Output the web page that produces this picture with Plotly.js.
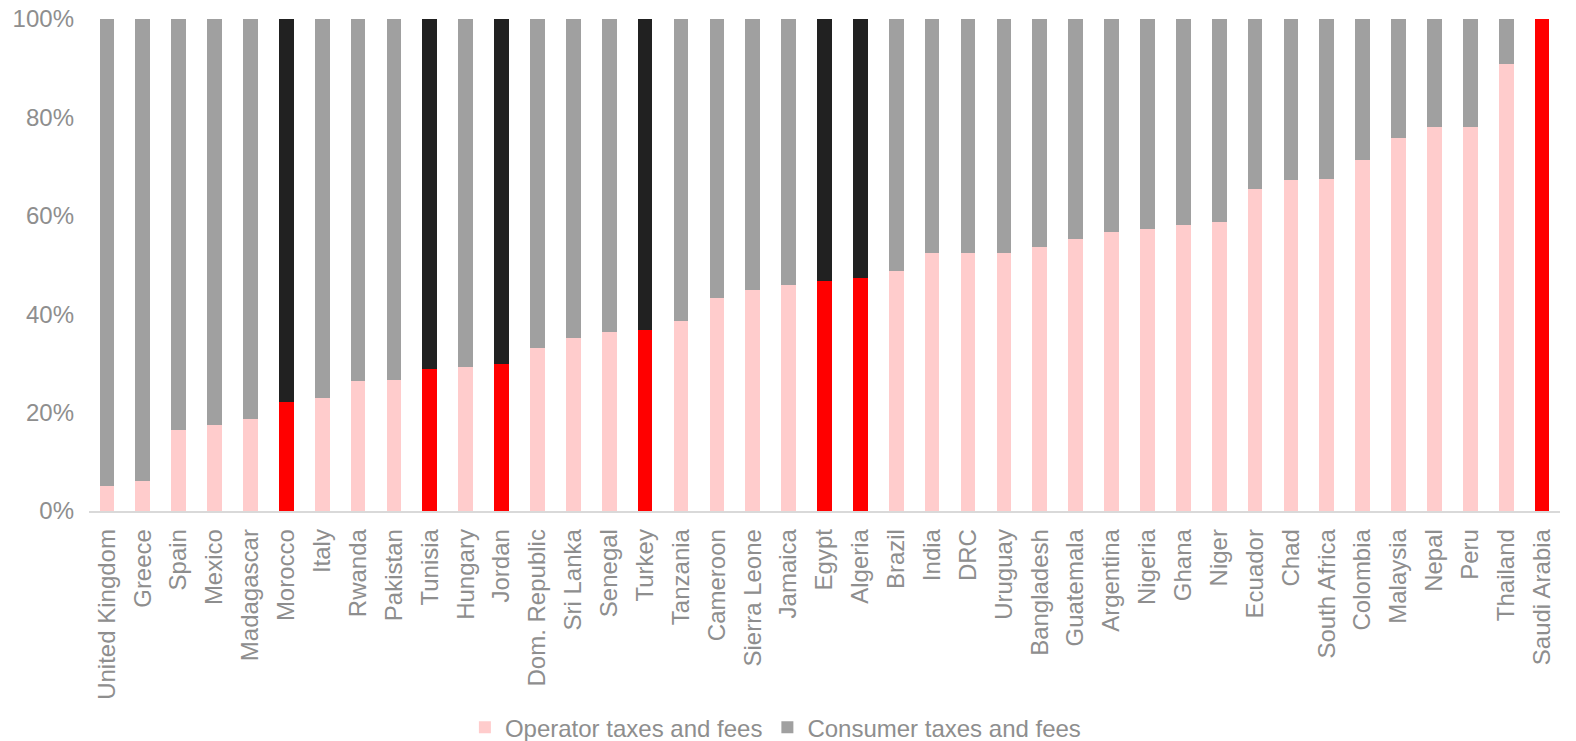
<!DOCTYPE html>
<html>
<head>
<meta charset="utf-8">
<script src="https://cdn.plot.ly/plotly-3.0.1.min.js"></script>
<style>
  html, body { margin: 0; padding: 0; background: #fff; }
  #chart { width: 1576px; height: 741px; }
</style>
</head>
<body>
<div id="chart"></div>
<script>
// Countries, sorted by the operator share of mobile taxes and fees
const countries = [
  "United Kingdom", "Greece", "Spain", "Mexico", "Madagascar", "Morocco", "Italy",
  "Rwanda", "Pakistan", "Tunisia", "Hungary", "Jordan", "Dom. Republic", "Sri Lanka",
  "Senegal", "Turkey", "Tanzania", "Cameroon", "Sierra Leone", "Jamaica", "Egypt",
  "Algeria", "Brazil", "India", "DRC", "Uruguay", "Bangladesh", "Guatemala",
  "Argentina", "Nigeria", "Ghana", "Niger", "Ecuador", "Chad", "South Africa",
  "Colombia", "Malaysia", "Nepal", "Peru", "Thailand", "Saudi Arabia"
];

// Operator share (%) of total taxes and fees
const operatorShare = [
  5.0, 6.2, 16.5, 17.5, 18.7, 22.1, 22.9,
  26.4, 26.7, 28.8, 29.3, 29.9, 33.1, 35.1,
  36.3, 36.8, 38.6, 43.2, 44.9, 45.9, 46.7,
  47.3, 48.7, 52.4, 52.5, 52.5, 53.7, 55.2,
  56.8, 57.3, 58.2, 58.7, 65.5, 67.3, 67.5,
  71.4, 75.9, 78.0, 78.1, 90.9, 100.0
];

// Consumer share (%) is the remainder
const consumerShare = operatorShare.map(v => +(100 - v).toFixed(1));

// Countries picked out in red / black
const highlighted = ["Morocco", "Tunisia", "Jordan", "Turkey", "Egypt", "Algeria", "Saudi Arabia"];

const yTickValues = [0, 20, 40, 60, 80, 100];
const yTickLabels = ["0%", "20%", "40%", "60%", "80%", "100%"];

const PINK = "#FFCCCC", GREY = "#A0A0A0", RED = "#FF0000", DARK = "#212121";
const TEXT = "#8E8E8E";
const FONT = "Arial, 'Liberation Sans', sans-serif";

const isHi = countries.map(c => highlighted.includes(c));

const traces = [
  {
    type: "bar",
    name: "Operator taxes and fees",
    x: countries,
    y: operatorShare,
    marker: { color: isHi.map(h => h ? RED : PINK), line: { width: 0 } },
    width: 0.41,
    hovertemplate: "%{x}: %{y:.1f}%<extra></extra>"
  },
  {
    type: "bar",
    name: "Consumer taxes and fees",
    x: countries,
    y: consumerShare,
    marker: { color: isHi.map(h => h ? DARK : GREY), line: { width: 0 } },
    width: 0.41,
    hovertemplate: "%{x}: %{y:.1f}%<extra></extra>"
  }
];

const layout = {
  width: 1576,
  height: 741,
  barmode: "stack",
  paper_bgcolor: "#ffffff",
  plot_bgcolor: "#ffffff",
  margin: { l: 89, r: 16, t: 19, b: 230 },
  font: { family: FONT, size: 24, color: TEXT },
  showlegend: true,
  legend: {
    orientation: "h",
    xref: "container",
    x: 0.492,
    xanchor: "center",
    yref: "container",
    y: 0.018,
    yanchor: "middle",
    font: { family: FONT, size: 24, color: TEXT },
    traceorder: "normal",
    itemwidth: 30,
    tracegroupgap: 0
  },
  xaxis: {
    type: "category",
    range: [-0.5, 40.5],
    tickangle: -90,
    tickfont: { family: FONT, size: 24, color: TEXT },
    ticks: "",
    ticklabelstandoff: 7,
    showgrid: false,
    zeroline: false,
    showline: true,
    linecolor: "#D9D9D9",
    linewidth: 1.5,
    fixedrange: true
  },
  yaxis: {
    range: [0, 100],
    tickvals: yTickValues,
    ticktext: yTickLabels,
    tickfont: { family: FONT, size: 24, color: TEXT },
    ticks: "",
    ticklabelstandoff: 14,
    showgrid: false,
    zeroline: false,
    showline: false,
    fixedrange: true
  }
};

Plotly.newPlot("chart", traces, layout, { displayModeBar: false, staticPlot: true });
</script>
</body>
</html>
